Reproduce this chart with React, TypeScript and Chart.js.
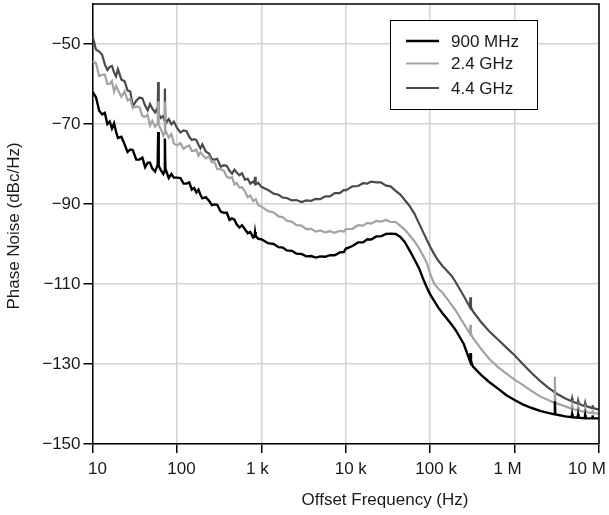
import { useEffect, useRef } from 'react';
import { Chart, registerables } from 'chart.js';

Chart.register(...registerables);

// Offset frequencies (Hz)
const freqs = [
  10, 11, 12, 13, 14, 15, 16, 17, 18, 19, 20, 22, 24, 26, 28, 30, 33, 36, 39, 42, 45, 48, 51, 55, 59, 64, 69, 74, 80, 86, 92,
  100, 110, 120, 130, 140, 150, 160, 170, 180, 190, 200, 220, 240, 260, 280, 300, 330, 360, 390, 420, 450, 480, 510, 550, 590, 640, 690, 740, 800, 860, 920,
  1000, 1200, 1400, 1600, 1800, 2000, 2300, 2600, 3000, 3400, 3900, 4400, 5000, 5700, 6500, 7400, 8500, 9500,
  10000, 12000, 14000, 16000, 18000, 20000, 23000, 26000, 30000, 34000, 39000, 44000, 50000, 57000, 65000, 74000, 85000, 92000,
  100000, 112000, 125000, 140000, 160000, 180000, 200000, 250000, 320000, 400000, 500000, 630000, 800000,
  1000000, 1250000, 1600000, 2000000, 2500000, 3200000, 4000000, 5000000, 6300000, 8000000, 10000000,
];

// Phase noise, dBc/Hz
const noise900 = [
  -62.0, -63.3, -66.7, -67.6, -67.2, -70.0, -69.4, -71.1, -69.8, -71.9, -73.5, -73.2, -75.1, -77.0, -76.4, -76.5, -78.9, -78.9, -78.4, -80.8, -79.7, -79.7, -81.1, -81.9, -80.3, -81.4, -82.5, -81.5, -83.5, -82.5, -83.4,
  -83.4, -83.5, -84.9, -84.9, -84.6, -86.4, -86.0, -87.1, -86.4, -87.7, -88.6, -88.3, -89.2, -90.3, -90.1, -90.2, -91.9, -92.2, -92.2, -94.0, -93.6, -93.9, -95.1, -95.9, -95.3, -96.3, -97.3, -97.0, -98.4, -98.0, -98.7,
  -98.8, -99.8, -100.0, -100.8, -100.9, -101.6, -101.7, -102.4, -102.5, -103.1, -103.0, -103.4, -103.1, -103.2, -102.8, -102.8, -102.1, -102.0,
  -101.2, -100.5, -99.6, -99.6, -98.8, -98.9, -98.1, -98.1, -97.5, -97.4, -97.5, -98.2, -99.5, -101.6, -103.8, -106.1, -109.4, -111.0,
  -112.6, -114.3, -115.9, -117.3, -118.8, -120.2, -121.5, -125.0, -130.6, -132.7, -134.5, -136.1, -137.8,
  -139.0, -140.1, -141.0, -141.7, -142.2, -142.7, -143.1, -143.3, -143.5, -143.6, -143.6,
];

const noise24 = [
  -54.3, -54.8, -58.0, -57.7, -57.6, -60.0, -60.0, -59.3, -61.9, -60.5, -61.5, -63.2, -61.8, -64.1, -63.7, -66.0, -65.6, -65.8, -68.0, -68.2, -67.7, -70.4, -69.2, -70.7, -69.9, -71.1, -72.9, -71.8, -73.4, -72.5, -74.9,
  -75.3, -74.8, -76.2, -75.6, -75.4, -76.7, -76.7, -76.4, -77.9, -77.1, -77.7, -78.6, -78.1, -79.6, -79.6, -81.3, -81.3, -81.7, -83.2, -83.5, -83.3, -85.1, -84.7, -85.9, -85.8, -86.9, -88.3, -87.9, -89.3, -88.8, -90.3,
  -90.6, -91.8, -92.1, -93.1, -93.3, -94.2, -94.4, -95.3, -95.4, -96.3, -96.2, -96.9, -96.6, -97.1, -96.8, -97.2, -96.7, -96.9,
  -96.3, -96.2, -95.3, -95.4, -94.7, -94.9, -94.2, -94.4, -94.0, -94.5, -94.5, -95.4, -96.4, -97.8, -99.3, -101.1, -103.4, -104.9,
  -107.5, -110.0, -111.2, -112.2, -113.8, -115.3, -116.6, -119.9, -123.4, -126.2, -128.7, -130.7, -132.4,
  -133.9, -135.2, -136.8, -138.1, -139.0, -139.9, -140.6, -141.3, -141.8, -142.2, -142.4,
];

const noise44 = [
  -48.0, -51.4, -51.9, -52.7, -55.1, -56.5, -55.7, -55.5, -57.1, -58.1, -56.3, -58.9, -59.3, -61.6, -61.9, -65.5, -64.2, -63.4, -63.6, -65.4, -66.6, -65.0, -66.1, -67.1, -66.0, -68.5, -68.0, -69.8, -68.8, -70.1, -69.4,
  -70.9, -72.1, -71.6, -71.8, -73.2, -74.0, -73.8, -74.0, -75.2, -76.1, -75.1, -76.9, -77.4, -78.8, -78.9, -78.7, -80.7, -80.3, -80.5, -81.7, -82.4, -81.4, -82.1, -82.8, -82.3, -83.9, -83.7, -84.9, -84.4, -85.1, -84.7,
  -85.7, -86.5, -87.4, -87.7, -88.4, -88.5, -89.1, -89.0, -89.5, -89.1, -89.2, -88.7, -88.8, -88.1, -88.1, -87.3, -87.3, -86.5,
  -86.6, -85.6, -85.5, -84.8, -84.9, -84.4, -84.6, -84.6, -85.4, -85.6, -86.7, -87.6, -89.0, -90.5, -92.4, -94.9, -97.6, -99.1,
  -100.7, -102.6, -104.2, -105.5, -106.8, -108.0, -109.5, -113.0, -116.8, -119.5, -121.8, -123.8, -125.9,
  -127.8, -130.0, -132.3, -134.2, -135.9, -137.5, -138.6, -139.5, -140.3, -140.9, -141.4,
];

// Spurs: frequency, peak level, level of the trace under the spur
const spurFreq900 = [60, 72, 842, 300000, 3000000, 4800000, 5650000, 6850000, 8400000];
const spurPeak900 = [-72.0, -73.6, -97.0, -127.3, -139.3, -142.5, -142.6, -142.8, -142.9];
const spurBase900 = [-80.5, -81.9, -98.2, -129.2, -142.6, -143.3, -143.4, -143.55, -143.6];

const spurFreq24 = [60, 72, 300000, 3000000, 4800000, 5650000, 6850000, 8400000];
const spurPeak24 = [-64.4, -64.4, -120.2, -133.2, -140.4, -140.8, -141.2, -141.5];
const spurBase24 = [-70.2, -72.3, -122.4, -139.7, -141.2, -141.6, -142.0, -142.3];

const spurFreq44 = [60, 72, 842, 300000, 4800000, 5650000, 6850000, 8400000];
const spurPeak44 = [-59.5, -61.1, -83.2, -113.3, -138.6, -139.2, -139.8, -140.3];
const spurBase44 = [-67.4, -69.1, -84.8, -115.8, -139.3, -139.9, -140.5, -141.0];

const seriesNames = ['900 MHz', '2.4 GHz', '4.4 GHz'];
const seriesColors = ['#000000', '#a3a3a3', '#4a4a4a'];

const xTickValues = [10, 100, 1000, 10000, 100000, 1000000, 10000000];
const xTickLabels = ['10', '100', '1 k', '10 k', '100 k', '1 M', '10 M'];
const yTickValues = [-150, -130, -110, -90, -70, -50];
const yTickLabels = ['\u2212150', '\u2212130', '\u2212110', '\u221290', '\u221270', '\u221250'];

const xTitle = 'Offset Frequency (Hz)';
const yTitle = 'Phase Noise (dBc/Hz)';

// label placement tweaks (style only)
const xLabelShift = [5, 4.5, -4, 5, 6, -7, -12];
const FONT = '"Liberation Sans", Arial, Helvetica, sans-serif';

function buildSeries(values: number[], sf: number[], sp: number[], sb: number[]) {
  const pts = freqs.map((f, i) => ({ x: f, y: values[i] }));
  sf.forEach((f, i) => {
    pts.push({ x: f * 0.985, y: sb[i] }, { x: f, y: sp[i] }, { x: f * 1.015, y: sb[i] });
  });
  pts.sort((a, b) => a.x - b.x);
  return pts;
}

const decorPlugin = {
  id: 'decor',
  afterDraw(chart: any) {
    const { ctx, chartArea: a, scales } = chart;
    ctx.save();
    // frame top/right
    ctx.strokeStyle = '#000';
    ctx.lineWidth = 1.5;
    ctx.beginPath();
    ctx.moveTo(a.left, a.top);
    ctx.lineTo(a.right, a.top);
    ctx.lineTo(a.right, a.bottom);
    ctx.stroke();

    ctx.fillStyle = '#1a1a1a';
    ctx.font = `17px ${FONT}`;
    ctx.textAlign = 'center';
    ctx.textBaseline = 'middle';
    xTickValues.forEach((v, i) => {
      const px = scales.x.getPixelForValue(v) + xLabelShift[i];
      ctx.fillText(xTickLabels[i], px, a.bottom + 25);
    });
    ctx.fillText(xTitle, 385, a.bottom + 56);
    ctx.save();
    ctx.translate(14, 226);
    ctx.rotate(-Math.PI / 2);
    ctx.fillText(yTitle, 0, 0);
    ctx.restore();

    // legend
    const bx = 390, by = 20, bw = 147, bh = 89;
    ctx.fillStyle = '#ffffff';
    ctx.fillRect(bx, by, bw, bh);
    ctx.strokeStyle = '#000';
    ctx.lineWidth = 1;
    ctx.strokeRect(bx + 0.5, by + 0.5, bw, bh);
    const rows = [41, 63.5, 88];
    seriesNames.forEach((name, i) => {
      ctx.strokeStyle = seriesColors[i];
      ctx.lineWidth = i === 0 ? 2.6 : 2.2;
      ctx.beginPath();
      ctx.moveTo(406, rows[i]);
      ctx.lineTo(439, rows[i]);
      ctx.stroke();
      ctx.fillStyle = '#1a1a1a';
      ctx.textAlign = 'left';
      ctx.fillText(name, 451, rows[i] + 1);
    });
    ctx.restore();
  },
};

export default function App() {
  const ref = useRef<HTMLCanvasElement | null>(null);
  useEffect(() => {
    if (!ref.current) return;
    Chart.defaults.font.family = FONT;
    const chart = new Chart(ref.current, {
      type: 'line',
      data: {
        datasets: [
          { label: seriesNames[0], data: buildSeries(noise900, spurFreq900, spurPeak900, spurBase900), borderColor: seriesColors[0], borderWidth: 2.4 },
          { label: seriesNames[1], data: buildSeries(noise24, spurFreq24, spurPeak24, spurBase24), borderColor: seriesColors[1], borderWidth: 2.2 },
          { label: seriesNames[2], data: buildSeries(noise44, spurFreq44, spurPeak44, spurBase44), borderColor: seriesColors[2], borderWidth: 2.2 },
        ],
      },
      options: {
        animation: false,
        responsive: true,
        maintainAspectRatio: false,
        layout: { padding: { top: 4, right: 10, left: 0, bottom: 0 } },
        elements: { point: { radius: 0 }, line: { tension: 0, fill: false } },
        plugins: { legend: { display: false }, tooltip: { enabled: false }, title: { display: false } },
        scales: {
          x: {
            type: 'logarithmic',
            min: 10,
            max: 10000000,
            afterBuildTicks: (s: any) => { s.ticks = xTickValues.map((v) => ({ value: v })); },
            afterFit: (s: any) => { s.height = 71; s.paddingLeft = 0; s.paddingRight = 0; },
            ticks: { display: false },
            grid: { color: '#d2d2d2', lineWidth: 1.5, tickColor: '#000', tickLength: 9, tickWidth: 1.5 },
            border: { display: true, color: '#000', width: 1.5 },
          },
          y: {
            type: 'linear',
            min: -150,
            max: -40,
            afterBuildTicks: (s: any) => { s.ticks = yTickValues.map((v) => ({ value: v })); },
            afterFit: (s: any) => { s.width = 92.5; s.paddingTop = 0; s.paddingBottom = 0; },
            ticks: {
              padding: 3,
              color: '#1a1a1a',
              font: { size: 17, family: FONT },
              callback: (v: any) => {
                const i = yTickValues.indexOf(Number(v));
                return i >= 0 ? yTickLabels[i] : '';
              },
            },
            grid: { color: '#d2d2d2', lineWidth: 1.5, tickColor: '#000', tickLength: 9, tickWidth: 1.5 },
            border: { display: true, color: '#000', width: 1.5 },
          },
        },
      },
      plugins: [decorPlugin],
    } as any);
    return () => chart.destroy();
  }, []);
  return (
    <div style={{ position: 'absolute', left: 0, top: 0, width: 609, height: 515, background: '#fff' }}>
      <canvas ref={ref} />
    </div>
  );
}
